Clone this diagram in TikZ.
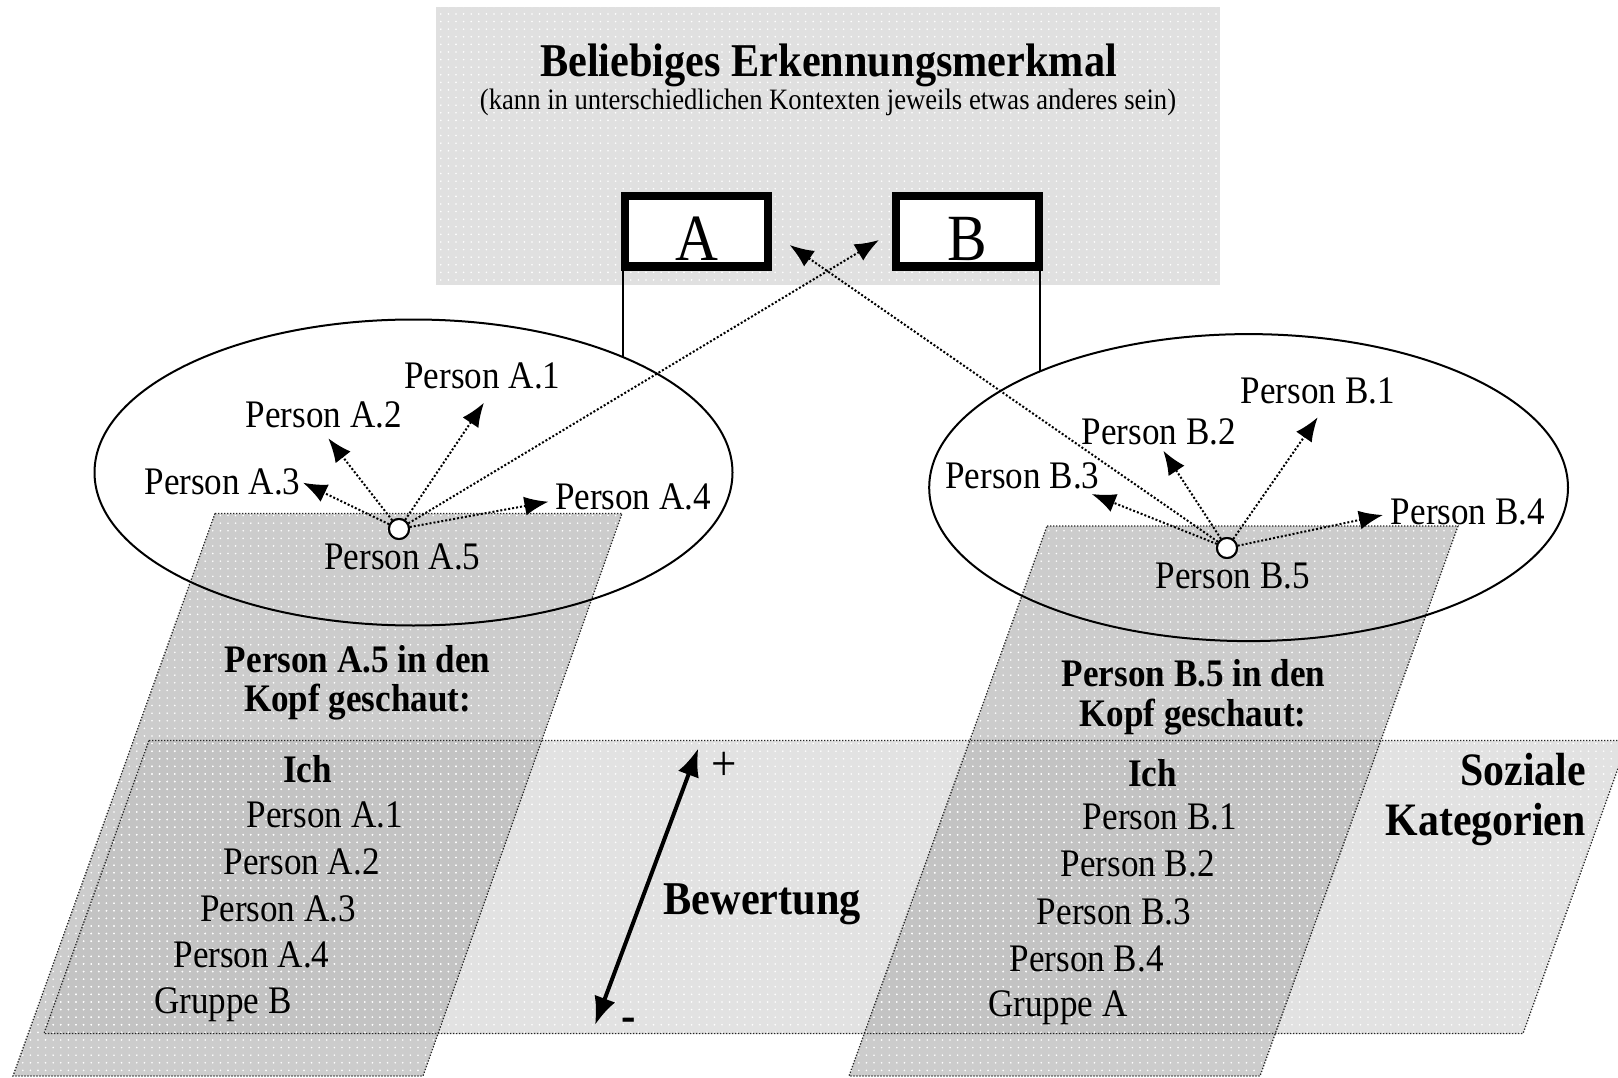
\documentclass[tikz,border=0pt]{standalone}
\usepackage{fontspec}
\setmainfont{Liberation Serif}[FakeStretch=0.9]
\usetikzlibrary{arrows.meta,patterns}
\pgfdeclarepatternformonly{wdots}{\pgfpoint{-1pt}{-1pt}}{\pgfpoint{1pt}{1pt}}{\pgfpoint{7.6pt}{7.6pt}}{\pgfpathcircle{\pgfpointorigin}{0.9pt}\pgfusepath{fill}}
\newcommand{\setfs}[1]{\fontsize{#1}{#1}\selectfont}
\definecolor{gtop}{gray}{0.878}
\definecolor{glight}{gray}{0.885}
\definecolor{gtall}{gray}{0.80}
\definecolor{gover}{gray}{0.765}
\begin{document}
\begin{tikzpicture}[x=1pt,y=-1pt,
  dots/.style={pattern=wdots, pattern color=white},
  pborder/.style={draw=black!85, line width=1.3pt, dash pattern=on 1.3pt off 1.7pt},
  ell/.style={draw=black, line width=2pt},
  solidline/.style={draw=black, line width=2pt},
  conn/.style={draw=black, line width=2pt, dash pattern=on 2pt off 2pt, -{Latex[length=24pt,width=19pt]}},
  bew/.style={draw=black, line width=4pt, {Latex[length=28pt,width=22pt]}-{Latex[length=28pt,width=22pt]}},
  boxnode/.style={draw=black, line width=8.5pt, fill=white, minimum width=143pt, minimum height=70.5pt, inner sep=0pt, outer sep=0pt, text height=59pt, text depth=0pt, font=\setfs{66}},
  dotnode/.style={circle, draw=black, fill=white, line width=2pt, minimum size=20pt, inner sep=0pt},
  lbl/.style={anchor=base, inner sep=0pt, font=\setfs{39}},
  blbl/.style={anchor=base, inner sep=0pt, font=\setfs{39}\bfseries},
  big/.style={anchor=base, inner sep=0pt, font=\setfs{47}\bfseries}
]
\useasboundingbox (0,0) rectangle (1618,1078);
\clip (0,0) rectangle (1618,1078);

% coordinates of the planes
\coordinate (H1) at (149,740.5);
\coordinate (H2) at (1628,740.5);
\coordinate (H3) at (1523,1033.5);
\coordinate (H4) at (44,1033.5);
\coordinate (L1) at (215,513.5);
\coordinate (L2) at (622,513.5);
\coordinate (L3) at (423,1076);
\coordinate (L4) at (13,1076);
\coordinate (R1) at (1047,526);
\coordinate (R2) at (1458,526);
\coordinate (R3) at (1260,1076);
\coordinate (R4) at (849,1076);

% top box
\fill[gtop] (436,7) rectangle (1220,285);
\fill[dots] (436,7) rectangle (1220,285);

% planes
\fill[glight] (H1) -- (H2) -- (H3) -- (H4) -- cycle;
\fill[gtall] (L1) -- (L2) -- (L3) -- (L4) -- cycle;
\fill[gtall] (R1) -- (R2) -- (R3) -- (R4) -- cycle;
\begin{scope}
  \clip (H1) -- (H2) -- (H3) -- (H4) -- cycle;
  \fill[gover] (L1) -- (L2) -- (L3) -- (L4) -- cycle;
  \fill[gover] (R1) -- (R2) -- (R3) -- (R4) -- cycle;
\end{scope}
\fill[dots] (H1) -- (H2) -- (H3) -- (H4) -- cycle;
\fill[dots] (L1) -- (L2) -- (L3) -- (L4) -- cycle;
\fill[dots] (R1) -- (R2) -- (R3) -- (R4) -- cycle;
\draw[pborder] (H1) -- (H2) -- (H3) -- (H4) -- cycle;
\draw[pborder] (L1) -- (L2) -- (L3) -- (L4) -- cycle;
\draw[pborder] (R1) -- (R2) -- (R3) -- (R4) -- cycle;

% title
\node[anchor=base, inner sep=0pt, font=\setfs{47}\bfseries] (title) at (828.6,77) {Beliebiges Erkennungsmerkmal};
\node[anchor=base, inner sep=0pt, font=\setfs{29.6}] (subt) at (828,110) {(kann in unterschiedlichen Kontexten jeweils etwas anderes sein)};

% ellipses
\draw[ell] (413.5,472.5) ellipse [x radius=319pt, y radius=153pt];
\draw[ell] (1248.6,487.6) ellipse [x radius=319.4pt, y radius=153.5pt];

% boxes
\node[boxnode] (boxA) at (696.5,231.5) {A};
\node[boxnode] (boxB) at (967.5,231.5) {B};
\coordinate (eA) at (623.3,357.5);
\coordinate (eB) at (1040,371.5);
\draw[solidline] (eA |- boxA.south) -- (eA);
\draw[solidline] (eB |- boxB.south) -- (eB);

% circles
\node[dotnode] (cA) at (399,529) {};
\node[dotnode] (cB) at (1227,548) {};

% arrow tips
\coordinate (tA1) at (484,402.7);
\coordinate (tA2) at (328.3,438.3);
\coordinate (tA3) at (303,482.7);
\coordinate (tA4) at (548.5,501.7);
\coordinate (tBox) at (879,240);
\coordinate (tB1) at (1317.7,417.3);
\coordinate (tB2) at (1163.3,450.7);
\coordinate (tB3) at (1091.7,494);
\coordinate (tB4) at (1383,515);
\coordinate (tAox) at (789.7,245);

\draw[conn] (cA) -- (tA1);
\draw[conn] (cA) -- (tA2);
\draw[conn] (cA) -- (tA3);
\draw[conn] (cA) -- (tA4);
\draw[conn] (cA) -- (tBox);
\draw[conn] (cB) -- (tB1);
\draw[conn] (cB) -- (tB2);
\draw[conn] (cB) -- (tB3);
\draw[conn] (cB) -- (tB4);
\draw[conn] (cB) -- (tAox);
\node[dotnode] at (cA) {};
\node[dotnode] at (cB) {};

% ellipse labels
\node[lbl] (pA1) at (482.4,388.3) {Person A.1};
\node[lbl] (pA2) at (323.7,427.3) {Person A.2};
\node[lbl] (pA3) at (222.5,494.3) {Person A.3};
\node[lbl] (pA4) at (633,509) {Person A.4};
\node[lbl] (pA5) at (402.4,569.5) {Person A.5};
\node[lbl] (pB1) at (1317.8,403.3) {Person B.1};
\node[lbl] (pB2) at (1158.9,444) {Person B.2};
\node[lbl] (pB3) at (1022.5,488.3) {Person B.3};
\node[lbl] (pB4) at (1468,524) {Person B.4};
\node[lbl] (pB5) at (1232.8,588) {Person B.5};

% left column
\node[blbl] (hA1) at (357.6,672.6) {Person A.5 in den};
\node[blbl] (hA2) at (357.6,711.5) {Kopf geschaut:};
\node[blbl] (ichA) at (307.4,782.4) {Ich};
\node[lbl] (lA1) at (324.8,827.8) {Person A.1};
\node[lbl] (lA2) at (301.6,874) {Person A.2};
\node[lbl] (lA3) at (278,921.3) {Person A.3};
\node[lbl] (lA4) at (251.5,967.4) {Person A.4};
\node[lbl] (lAG) at (222.9,1013.2) {Gruppe B};

% right column
\node[blbl] (hB1) at (1193.6,686) {Person B.5 in den};
\node[blbl] (hB2) at (1192.8,726.7) {Kopf geschaut:};
\node[blbl] (ichB) at (1152.5,786.8) {Ich};
\node[lbl] (lB1) at (1160,829.9) {Person B.1};
\node[lbl] (lB2) at (1137.6,876.7) {Person B.2};
\node[lbl] (lB3) at (1114,924.6) {Person B.3};
\node[lbl] (lB4) at (1086.6,971) {Person B.4};
\node[lbl] (lBG) at (1058,1016) {Gruppe A};

% social categories
\node[anchor=base east, inner sep=0pt, font=\setfs{46.5}\bfseries] (soz1) at (1586,785.7) {Soziale};
\node[anchor=base east, inner sep=0pt, font=\setfs{46.5}\bfseries] (soz2) at (1586,835.4) {Kategorien};

% Bewertung
\coordinate (bTop) at (698.3,748.3);
\coordinate (bBot) at (595,1025);
\draw[bew] (bBot) -- (bTop);
\node[big] (bewt) at (762.2,914.3) {Bewertung};
\node[inner sep=0pt, font=\setfs{50}] (plus) at (724.3,766.7) {+};
\node[inner sep=0pt, font=\setfs{48}\bfseries] (minus) at (628.3,1025) {-};
\end{tikzpicture}
\end{document}
